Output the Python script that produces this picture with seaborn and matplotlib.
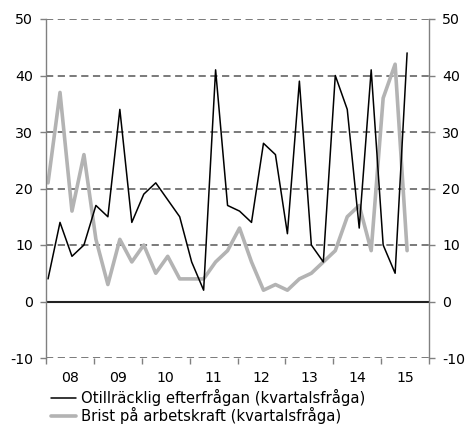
import numpy as np
import pandas as pd
import matplotlib
matplotlib.use("Agg")
import matplotlib.pyplot as plt
import seaborn as sns

# quarterly survey answers, 2008Q1 - 2015Q3
years = ["08", "09", "10", "11", "12", "13", "14", "15"]
efterfragan = [4, 14, 8, 10, 17, 15, 34, 14, 19, 21, 18, 15, 7, 2, 41, 17,
               16, 14, 28, 26, 12, 39, 10, 7, 40, 34, 13, 41, 10, 5, 44]
arbetskraft = [21, 37, 16, 26, 11, 3, 11, 7, 10, 5, 8, 4, 4, 4, 7, 9,
               13, 7, 2, 3, 2, 4, 5, 7, 9, 15, 17, 9, 36, 42, 9]
labels = ["Otillräcklig efterfrågan (kvartalsfråga)",
          "Brist på arbetskraft (kvartalsfråga)"]

df = pd.DataFrame({"q": np.arange(len(efterfragan)),
                   labels[0]: efterfragan, labels[1]: arbetskraft})
df = df.melt(id_vars="q", var_name="serie", value_name="value")

sns.set_style("white")
plt.rcParams['font.family'] = ['DejaVu Sans']
plt.rcParams['font.size'] = 10
plt.rcParams['axes.unicode_minus'] = False
plt.rcParams['text.color'] = 'black'
plt.rcParams['xtick.labelcolor'] = 'black'
plt.rcParams['ytick.labelcolor'] = 'black'

fig = plt.figure(figsize=(4.67, 4.26), dpi=100)
ax = fig.add_axes([46 / 467, 1 - 358 / 426, 383 / 467, 339 / 426])

# dashed grid first, under the lines
for v in [-10, 10, 20, 30, 40, 50]:
    ax.axhline(v, color="#707070", lw=1.3, ls=(0, (4, 2.5)), zorder=0)
ax.axhline(0, color="#222222", lw=1.5, zorder=0)

sns.lineplot(data=df, x="q", y="value", hue="serie",
             palette=["black", "#b3b3b3"], ax=ax, legend=False)
ax.lines[-2].set_linewidth(1.1)
ax.lines[-1].set_linewidth(2.6)
ax.lines[-1].set_zorder(1)
ax.lines[-2].set_zorder(2)

ax.set_xlim(-0.17, 31.75)
ax.set_ylim(-10, 50)
ax.set_xlabel("")
ax.set_ylabel("")

ax.set_yticks(range(-10, 51, 10))
ax.tick_params(axis="y", which="both", left=True, right=True,
               labelleft=True, labelright=True, length=4.5, width=1,
               color="#808080", labelcolor="black", pad=5, labelsize=10.2)

ax.set_xticks([-0.17 + 4 * k for k in range(9)])
ax.set_xticklabels([])
ax.set_xticks([1.83 + 4 * k for k in range(len(years))], minor=True)
ax.set_xticklabels(years, minor=True)
ax.tick_params(axis="x", which="major", bottom=True, length=4.5, width=1,
               color="#808080")
ax.tick_params(axis="x", which="minor", bottom=False, pad=7, labelsize=10.2,
               labelcolor="black")

for s in ["top", "bottom"]:
    ax.spines[s].set_visible(False)
for s in ["left", "right"]:
    ax.spines[s].set_color("#808080")
    ax.spines[s].set_linewidth(1)

handles = [plt.Line2D([], [], color="black", lw=1.1),
           plt.Line2D([], [], color="#b3b3b3", lw=2.6)]
fig.legend(handles, labels, loc="upper left",
           bbox_to_anchor=(51 / 467, 1 - 389 / 426), frameon=False,
           handlelength=1.65, handletextpad=0.4, labelspacing=0.05,
           borderaxespad=0, borderpad=0, fontsize=10.7, labelcolor="black")

fig.savefig("out.png", dpi=100)
